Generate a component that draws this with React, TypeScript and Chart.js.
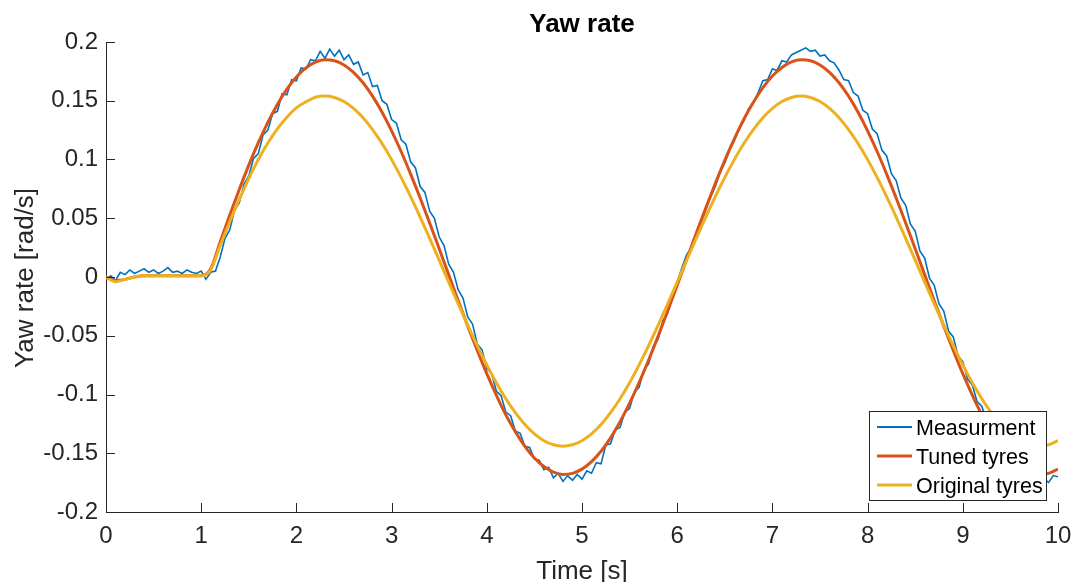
import React, { useEffect, useRef } from "react";
import { Chart, registerables } from "chart.js";

Chart.register(...registerables);

// ---- data ----
const modelTime: number[] = Array.from({ length: 101 }, (_, i) => Math.round(i * 10) / 100);
const measTime: number[] = Array.from({ length: 201 }, (_, i) => Math.round(i * 5) / 100);

const measurement: number[] = [
  -0.002, 0.001, -0.003, 0.004, 0.002, 0.006, 0.003, 0.005, 0.007, 0.004,
  0.006, 0.003, 0.005, 0.008, 0.004, 0.005, 0.003, 0.006, 0.004, 0.003,
  0.005, -0.002, 0.004, 0.005, 0.017, 0.033, 0.040, 0.057, 0.063, 0.079,
  0.086, 0.101, 0.105, 0.121, 0.125, 0.139, 0.141, 0.156, 0.155, 0.168,
  0.167, 0.178, 0.177, 0.185, 0.184, 0.192, 0.186, 0.194, 0.188, 0.193,
  0.185, 0.189, 0.181, 0.183, 0.172, 0.174, 0.162, 0.163, 0.150, 0.147,
  0.134, 0.131, 0.117, 0.113, 0.098, 0.093, 0.077, 0.072, 0.056, 0.050,
  0.034, 0.027, 0.011, 0.004, -0.011, -0.018, -0.034, -0.040, -0.057, -0.062,
  -0.078, -0.082, -0.097, -0.101, -0.115, -0.118, -0.131, -0.133, -0.144, -0.145,
  -0.155, -0.156, -0.164, -0.162, -0.171, -0.167, -0.174, -0.169, -0.173, -0.168,
  -0.172, -0.165, -0.167, -0.158, -0.159, -0.143, -0.142, -0.130, -0.128, -0.115,
  -0.112, -0.098, -0.094, -0.079, -0.074, -0.059, -0.053, -0.037, -0.031, -0.015,
  -0.004, 0.008, 0.019, 0.025, 0.036, 0.046, 0.057, 0.068, 0.077, 0.089,
  0.097, 0.108, 0.116, 0.126, 0.133, 0.143, 0.148, 0.157, 0.167, 0.168,
  0.177, 0.176, 0.184, 0.183, 0.189, 0.191, 0.193, 0.195, 0.192, 0.193,
  0.188, 0.189, 0.184, 0.182, 0.176, 0.168, 0.167, 0.157, 0.154, 0.142,
  0.139, 0.126, 0.122, 0.108, 0.103, 0.088, 0.082, 0.067, 0.061, 0.045,
  0.039, 0.022, 0.016, -0.001, -0.007, -0.023, -0.029, -0.046, -0.051, -0.067,
  -0.072, -0.087, -0.092, -0.106, -0.110, -0.123, -0.126, -0.138, -0.140, -0.151,
  -0.152, -0.161, -0.160, -0.168, -0.166, -0.173, -0.170, -0.171, -0.175, -0.169,
  -0.170,
];

const tunedTyres: number[] = [
  0, -0.003, -0.002, 0, 0.001, 0.001, 0.001, 0.001, 0.001, 0.001,
  0.001, 0.007, 0.0301, 0.0527, 0.0745, 0.0952, 0.1143, 0.1316, 0.1469, 0.1599,
  0.1703, 0.178, 0.1829, 0.1849, 0.1841, 0.1805, 0.1742, 0.1653, 0.1539, 0.1402,
  0.1244, 0.1068, 0.0876, 0.0673, 0.046, 0.024, 0.0018, -0.0202, -0.0418, -0.0625,
  -0.0823, -0.1005, -0.1173, -0.1317, -0.1441, -0.154, -0.1613, -0.166, -0.168, -0.1671,
  -0.1635, -0.1572, -0.1483, -0.1369, -0.1232, -0.1074, -0.0898, -0.0706, -0.0503, -0.029,
  -0.007, 0.0152, 0.0372, 0.0588, 0.0795, 0.0993, 0.1175, 0.1343, 0.1487, 0.1611,
  0.171, 0.1783, 0.183, 0.1849, 0.1841, 0.1805, 0.1742, 0.1653, 0.1539, 0.1402,
  0.1244, 0.1068, 0.0876, 0.0673, 0.046, 0.024, 0.0018, -0.0202, -0.0418, -0.0625,
  -0.0823, -0.1005, -0.1173, -0.1317, -0.1441, -0.154, -0.1613, -0.166, -0.168, -0.1671,
  -0.1635,
];

const originalTyres: number[] = [
  0, -0.004, -0.002, 0, 0.001, 0.001, 0.001, 0.001, 0.001, 0.001,
  0.001, 0.006, 0.027, 0.047, 0.066, 0.084, 0.1, 0.114, 0.126, 0.136,
  0.144, 0.149, 0.153, 0.154, 0.1528, 0.1493, 0.1435, 0.1356, 0.1255, 0.1136,
  0.0999, 0.0848, 0.0684, 0.051, 0.0329, 0.0144, -0.0044, -0.0229, -0.041, -0.0584,
  -0.0748, -0.09, -0.1036, -0.1155, -0.1256, -0.1335, -0.1393, -0.1428, -0.144, -0.1428,
  -0.1393, -0.1335, -0.1256, -0.1155, -0.1036, -0.09, -0.0748, -0.0584, -0.041, -0.0229,
  -0.0044, 0.0144, 0.0329, 0.051, 0.0684, 0.0848, 0.0999, 0.1136, 0.1255, 0.1356,
  0.1435, 0.1493, 0.1528, 0.154, 0.1528, 0.1493, 0.1435, 0.1356, 0.1255, 0.1136,
  0.0999, 0.0848, 0.0684, 0.051, 0.0329, 0.0144, -0.0044, -0.0229, -0.041, -0.0584,
  -0.0748, -0.09, -0.1036, -0.1155, -0.1256, -0.1335, -0.1393, -0.1428, -0.144, -0.1428,
  -0.1393,
];

const xTicks: number[] = [0, 1, 2, 3, 4, 5, 6, 7, 8, 9, 10];
const yTicks: number[] = [-0.2, -0.15, -0.1, -0.05, 0, 0.05, 0.1, 0.15, 0.2];
const seriesNames: string[] = ["Measurment", "Tuned tyres", "Original tyres"];
const seriesColors: string[] = ["#0072BD", "#D95319", "#EDB120"];

const FONT = '"Liberation Sans", Arial, Helvetica, sans-serif';

const decorPlugin = {
  id: "decor",
  afterDraw(chart: any) {
    const { ctx, chartArea } = chart;
    const xs = chart.scales.x;
    const ys = chart.scales.y;
    ctx.save();
    // inward ticks
    ctx.strokeStyle = "#262626";
    ctx.lineWidth = 1;
    for (const v of xTicks) {
      const px = Math.round(xs.getPixelForValue(v)) + 0.5;
      ctx.beginPath();
      ctx.moveTo(px, chartArea.bottom);
      ctx.lineTo(px, chartArea.bottom - 9);
      ctx.stroke();
    }
    for (const v of yTicks) {
      const py = Math.round(ys.getPixelForValue(v)) + 0.5;
      ctx.beginPath();
      ctx.moveTo(chartArea.left, py);
      ctx.lineTo(chartArea.left + 9, py);
      ctx.stroke();
    }
    const cx = (chartArea.left + chartArea.right) / 2;
    // title
    ctx.fillStyle = "#000";
    ctx.font = `bold 26px ${FONT}`;
    ctx.textAlign = "center";
    ctx.textBaseline = "alphabetic";
    ctx.fillText("Yaw rate", cx, 32);
    // x axis title
    ctx.fillStyle = "#262626";
    ctx.font = `26px ${FONT}`;
    ctx.fillText("Time [s]", cx, 579);
    // y axis title
    ctx.save();
    ctx.translate(33, (chartArea.top + chartArea.bottom) / 2 + 1);
    ctx.rotate(-Math.PI / 2);
    ctx.fillText("Yaw rate [rad/s]", 0, 0);
    ctx.restore();
    // legend
    const lx = 869.5, ly = 411.5, lw = 177, lh = 89;
    ctx.fillStyle = "#fff";
    ctx.fillRect(lx, ly, lw, lh);
    ctx.strokeStyle = "#262626";
    ctx.lineWidth = 1;
    ctx.strokeRect(lx, ly, lw, lh);
    ctx.font = `21.5px ${FONT}`;
    ctx.textAlign = "left";
    ctx.textBaseline = "alphabetic";
    const rows = [427, 456, 485];
    seriesNames.forEach((name, i) => {
      ctx.strokeStyle = seriesColors[i];
      ctx.lineWidth = i === 0 ? 2 : 3;
      ctx.beginPath();
      ctx.moveTo(877, rows[i]);
      ctx.lineTo(912, rows[i]);
      ctx.stroke();
      ctx.fillStyle = "#000";
      ctx.fillText(name, 916, rows[i] + 8);
    });
    ctx.restore();
  },
};

export default function App() {
  const ref = useRef<HTMLCanvasElement | null>(null);
  useEffect(() => {
    if (!ref.current) return;
    const chart = new Chart(ref.current, {
      type: "line",
      data: {
        datasets: [
          {
            label: seriesNames[0],
            data: measTime.map((t, i) => ({ x: t, y: measurement[i] })),
            borderColor: seriesColors[0],
            borderWidth: 1.6,
            pointRadius: 0,
            tension: 0,
            order: 3,
          },
          {
            label: seriesNames[1],
            data: modelTime.map((t, i) => ({ x: t, y: tunedTyres[i] })),
            borderColor: seriesColors[1],
            borderWidth: 3,
            pointRadius: 0,
            cubicInterpolationMode: "monotone",
            order: 2,
          },
          {
            label: seriesNames[2],
            data: modelTime.map((t, i) => ({ x: t, y: originalTyres[i] })),
            borderColor: seriesColors[2],
            borderWidth: 3,
            pointRadius: 0,
            cubicInterpolationMode: "monotone",
            order: 1,
          },
        ],
      },
      options: {
        animation: false,
        responsive: false,
        devicePixelRatio: 1,
        layout: { padding: { top: 42, right: 15, left: 0, bottom: 0 } },
        plugins: { legend: { display: false }, tooltip: { enabled: false }, title: { display: false } },
        scales: {
          x: {
            type: "linear",
            min: 0,
            max: 10,
            afterBuildTicks: (s: any) => {
              s.ticks = xTicks.map((v) => ({ value: v }));
            },
            ticks: {
              font: { family: FONT, size: 24 },
              color: "#262626",
              padding: 10,
              maxRotation: 0,
              callback: (v: any) => String(v),
            },
            grid: { display: true, drawOnChartArea: false, drawTicks: false, color: "rgba(0,0,0,0)" },
            border: { display: true, color: "#262626", width: 1 },
            afterFit: (s: any) => {
              s.height = 70;
              s.paddingRight = 0;
              s.paddingLeft = 0;
            },
          },
          y: {
            type: "linear",
            min: -0.2,
            max: 0.2,
            afterBuildTicks: (s: any) => {
              s.ticks = yTicks.map((v) => ({ value: v }));
            },
            ticks: {
              font: { family: FONT, size: 24 },
              color: "#262626",
              padding: 8,
              callback: (v: any) => String(Math.round(Number(v) * 100) / 100),
            },
            grid: { display: true, drawOnChartArea: false, drawTicks: false, color: "rgba(0,0,0,0)" },
            border: { display: true, color: "#262626", width: 1 },
            afterFit: (s: any) => {
              s.width = 106;
              s.paddingTop = 0;
              s.paddingBottom = 0;
            },
          },
        },
      },
      plugins: [decorPlugin],
    });
    return () => chart.destroy();
  }, []);
  return (
    <div style={{ position: "absolute", left: 0, top: 0, width: 1073, height: 582, background: "#fff" }}>
      <canvas ref={ref} width={1073} height={582} style={{ display: "block" }} />
    </div>
  );
}
